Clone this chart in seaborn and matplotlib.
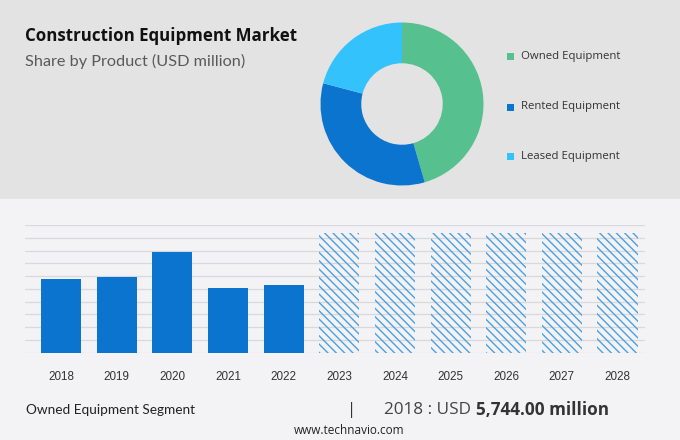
import matplotlib
matplotlib.use("Agg")
import matplotlib.pyplot as plt
import seaborn as sns
import pandas as pd
from matplotlib.patches import Rectangle

# ---- data ----
segments = ["Owned Equipment", "Rented Equipment", "Leased Equipment"]
shares = [45.5, 33.6, 20.9]
seg_colors = ["#57c08f", "#0a74cf", "#33c2fc"]

years = ["2018", "2019", "2020", "2021", "2022", "2023", "2024", "2025", "2026", "2027", "2028"]
values = [5744, 5948, 7857, 5063, 5275, 9400, 9400, 9400, 9400, 9400, 9400]
n_actual = 5

footer_left = "Owned Equipment Segment"
footer_year = "2018 : USD "
footer_value = "5,744.00 million"
source = "www.technavio.com"

sns.set_theme(style="white")
plt.rcParams["font.family"] = ["Open Sans", "DejaVu Sans"]
plt.rcParams["hatch.linewidth"] = 1.0

W, H = 680, 440
fig = plt.figure(figsize=(6.8, 4.4), dpi=100)
fig.patch.set_facecolor("#f3f3f5")

def fx(px):
    return px / W

def fy(py):
    return 1 - py / H

# top band background
fig.patches.append(Rectangle((0, fy(199)), 1, 199 / H, transform=fig.transFigure,
                             facecolor="#e3e3e3", edgecolor="none", zorder=-5))

# titles
fig.text(fx(25), fy(36), "Construction Equipment Market", fontsize=12.2,
         fontweight="bold", color="#111111", va="center", ha="left")
fig.text(fx(25), fy(61), "Share by Product (USD million)", fontsize=11.7,
         color="#5a5a5a", va="center", ha="left", family=["Lato", "DejaVu Sans"])

# donut
cx, cy, r = 402, 104, 81.5
ax_p = fig.add_axes([fx(cx - r), fy(cy + r), 2 * r / W, 2 * r / H])
ax_p.pie(shares, colors=seg_colors, startangle=90, counterclock=False,
         wedgeprops=dict(width=0.5, edgecolor="none"))
ax_p.set_xlim(-1, 1)
ax_p.set_ylim(-1, 1)
ax_p.set_aspect("equal")
ax_p.axis("off")

# legend
leg_y = [57, 107, 157]
for name, col, yy in zip(segments, seg_colors, leg_y):
    fig.patches.append(Rectangle((fx(506.5), fy(yy + 3.5)), 7 / W, 7 / H,
                                 transform=fig.transFigure, facecolor=col,
                                 edgecolor="none"))
    fig.text(fx(521), fy(yy), name, fontsize=8.2, color="#333333",
             va="center", ha="left")

# bar chart
ax = fig.add_axes([fx(25), fy(352.7), (645 - 25) / W, (352.7 - 225) / H])
ax.set_facecolor("none")
df = pd.DataFrame({"year": years, "value": values})
sns.barplot(data=df, x="year", y="value", color="#0a74cf", saturation=1,
            width=0.72, ax=ax, zorder=3)
for i, p in enumerate(ax.patches):
    if i >= n_actual:
        p.set_facecolor("none")
        p.set_edgecolor("#4d9fe0")
        p.set_hatch("\\\\\\\\")
        p.set_linewidth(0)
    else:
        p.set_edgecolor("none")

ax.set_ylim(0, 10000)
ax.set_xlim(-0.647, 10.494)
ax.set_yticks(range(0, 10001, 1000))
ax.yaxis.grid(True, color="#d9d9dd", linewidth=0.9)
ax.set_axisbelow(True)
ax.tick_params(axis="y", left=False, labelleft=False)
ax.tick_params(axis="x", bottom=False, pad=7, labelsize=8.4, labelcolor="#333333")
for lab in ax.get_xticklabels():
    lab.set_family(["Liberation Sans", "DejaVu Sans"])
ax.set_xlabel("")
ax.set_ylabel("")
for s in ax.spines.values():
    s.set_visible(False)

# footer
fig.text(fx(26), fy(410), footer_left, fontsize=9.8, color="#222222",
         va="center", ha="left", family=["Lato", "DejaVu Sans"])
fig.text(fx(352), fy(410), "|", fontsize=12, color="#333333", va="center", ha="center")
t = fig.text(fx(384), fy(410), footer_year, fontsize=12.3, color="#444444",
             va="center", ha="left", family=["Open Sans", "DejaVu Sans"])
fig.canvas.draw()
bb = t.get_window_extent()
fig.text(bb.x1 / W, fy(410), footer_value, fontsize=12.3, color="#333333",
         fontweight="bold", va="center", ha="left")
fig.text(fx(349), fy(430), source, fontsize=8.5, color="#222222",
         va="center", ha="center")

fig.savefig("out.png", dpi=100, facecolor=fig.get_facecolor())
